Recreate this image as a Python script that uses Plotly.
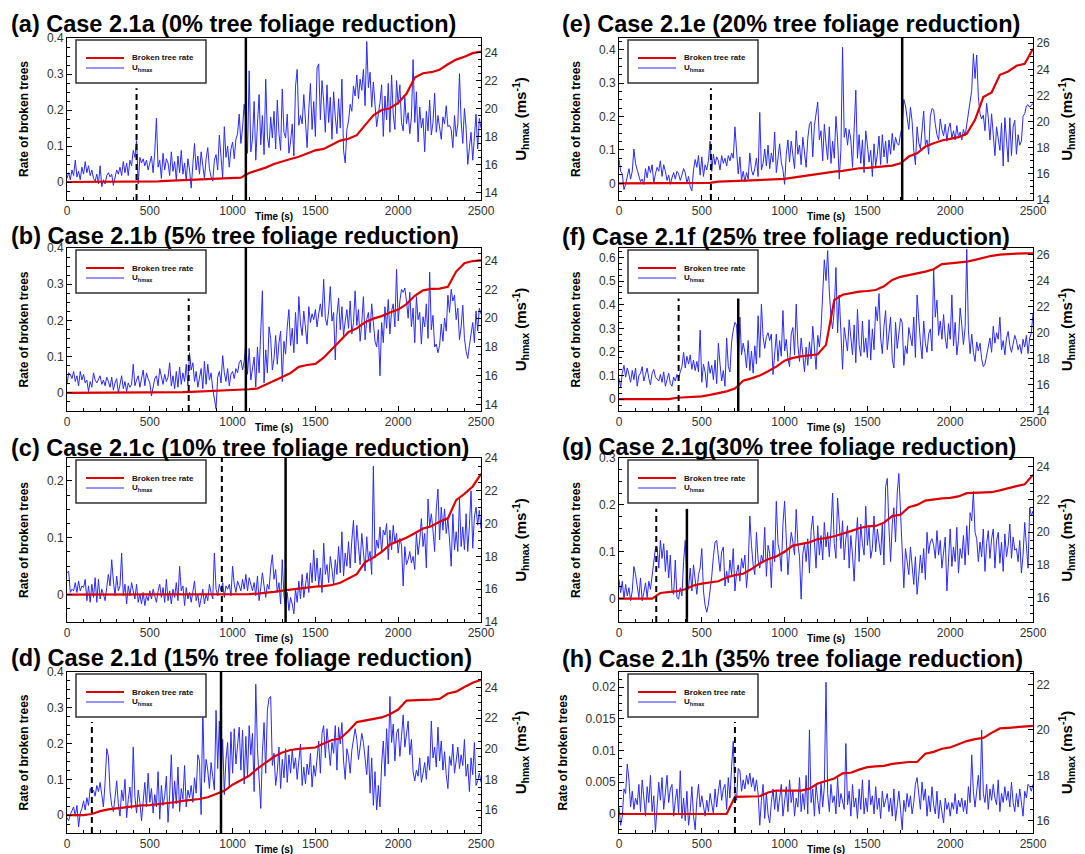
import plotly.graph_objects as go

# ---------------- data ----------------
panel_titles = [
    "(a) Case 2.1a (0% tree foliage reduction)",
    "(b) Case 2.1b (5% tree foliage reduction)",
    "(c) Case 2.1c (10% tree foliage reduction)",
    "(d) Case 2.1d (15% tree foliage reduction)",
    "(e) Case 2.1e (20% tree foliage reduction)",
    "(f) Case 2.1f (25% tree foliage reduction)",
    "(g) Case 2.1g(30% tree foliage reduction)",
    "(h) Case 2.1h (35% tree foliage reduction)",
]
legend_labels = ["Broken tree rate", "U<sub>hmax</sub>"]

U_STEP = 10     # s between U_hmax samples
R_STEP = 50     # s between broken-tree-rate samples

u_a = [15.0, 15.4, 14.9, 15.6, 15.2, 16.3, 15.1, 15.5, 14.9, 15.8, 15.3, 16.2, 15.4, 15.9, 15.2, 15.6, 15.0, 14.8, 15.3, 14.6, 15.9, 14.4, 14.9, 14.6, 15.2,
       15.4, 15.1, 15.3, 14.5, 15.0, 15.6, 15.3, 15.8, 15.2, 16.2, 15.4, 16.1, 15.2, 16.3, 15.9, 17.0, 16.5, 17.7, 14.6, 16.5, 16.1, 16.4, 15.9, 16.3, 15.6,
       16.2, 16.6, 15.4, 16.9, 19.3, 15.8, 16.3, 15.0, 16.8, 15.6, 16.4, 16.1, 15.2, 16.9, 15.5, 16.2, 14.9, 16.6, 15.4, 17.0, 15.3, 16.1, 14.8, 16.4, 15.6,
       14.3, 16.0, 17.5, 15.6, 16.6, 15.3, 16.9, 15.9, 15.0, 16.4, 17.2, 15.7, 15.1, 14.8, 16.3, 16.7, 15.6, 18.1, 16.4, 15.0, 18.7, 16.5, 17.3, 15.8, 17.1,
       17.6, 16.4, 17.8, 18.2, 19.6, 17.5, 18.6, 20.3, 19.1, 16.8, 22.7, 16.9, 17.8, 20.5, 16.3, 18.9, 21.0, 17.4, 19.5, 16.7, 22.1, 18.0, 17.2, 19.4, 17.9,
       19.8, 17.1, 20.6, 18.2, 17.0, 21.4, 18.3, 17.9, 19.6, 16.8, 17.6, 18.9, 16.6, 21.6, 22.8, 18.8, 19.5, 18.9, 21.0, 19.3, 17.2, 19.9, 21.8, 18.5, 20.5,
       18.0, 22.9, 23.2, 19.2, 22.0, 20.5, 18.3, 21.7, 19.0, 20.8, 17.8, 21.2, 19.4, 18.2, 20.7, 18.6, 22.1, 17.0, 16.1, 18.5, 19.1, 20.3, 19.8, 21.6, 20.9,
       22.4, 20.7, 22.1, 21.3, 22.8, 20.2, 24.8, 21.5, 22.6, 20.1, 21.9, 20.3, 18.7, 19.6, 20.4, 21.7, 18.0, 20.9, 19.2, 21.8, 18.3, 22.4, 19.6, 18.5, 22.0,
       20.3, 21.7, 19.0, 18.4, 20.8, 18.9, 19.7, 18.2, 19.4, 23.5, 19.0, 21.2, 17.6, 20.1, 18.6, 19.3, 16.9, 19.8, 18.4, 20.6, 18.1, 19.0, 21.1, 18.3, 19.5,
       18.6, 17.8, 19.4, 18.9, 20.2, 18.7, 18.8, 18.5, 17.2, 19.5, 18.0, 18.9, 22.5, 19.1, 17.5, 20.0, 18.6, 16.0, 17.2, 18.3, 16.3, 17.9, 19.6, 17.1, 19.3,
       18.6]
rate_a = [0, 0, 0, 0, 0, 0, 0, 0, 0, 0,
          0.001, 0.002, 0.003, 0.004, 0.005, 0.006, 0.007, 0.008, 0.009, 0.010, 0.011, 0.012,
          0.025, 0.032, 0.040, 0.050, 0.058, 0.064, 0.070, 0.080, 0.088, 0.092, 0.103, 0.115,
          0.120, 0.130, 0.158, 0.185, 0.200, 0.205, 0.220, 0.245, 0.290, 0.302, 0.305, 0.312,
          0.327, 0.340, 0.348, 0.358, 0.362]

u_b = [15.4, 16.2, 16.1, 15.8, 16.3, 15.6, 16.0, 15.3, 16.3, 15.7, 16.1, 15.5, 15.7, 14.9, 15.6, 15.2, 16.2, 15.7, 15.5, 15.8, 16.0, 15.4, 15.7, 15.3, 15.9,
       15.6, 15.2, 15.9, 15.0, 15.5, 15.8, 14.8, 15.3, 16.0, 15.1, 15.6, 14.9, 15.5, 15.2, 15.4, 16.8, 15.3, 15.7, 16.0, 15.2, 15.8, 16.4, 15.3, 16.2, 15.8,
       15.5, 14.6, 15.2, 15.8, 16.0, 15.3, 16.5, 15.8, 15.4, 16.1, 15.6, 15.9, 16.9, 15.3, 16.0, 15.1, 16.3, 15.2, 16.6, 15.4, 16.2, 15.6, 16.8, 15.3, 17.6,
       16.4, 16.9, 15.6, 16.3, 15.2, 15.9, 16.5, 15.1, 17.0, 15.4, 16.8, 15.7, 16.2, 15.1, 14.4, 13.7, 15.9, 16.3, 15.5, 17.4, 16.2, 15.6, 16.5, 15.3, 16.1,
       16.3, 15.8, 16.5, 16.2, 16.9, 17.1, 16.4, 17.0, 18.3, 16.1, 17.9, 15.7, 16.4, 17.3, 15.2, 18.0, 16.2, 19.0, 21.9, 15.5, 17.8, 16.2, 19.4, 18.6, 16.4,
       17.2, 18.8, 16.8, 18.3, 19.1, 15.6, 18.4, 17.5, 19.4, 20.6, 18.1, 19.3, 17.6, 20.4, 18.2, 21.5, 19.6, 18.8, 20.5, 19.3, 18.2, 20.8, 19.7, 20.3, 19.9,
       20.6, 19.4, 20.3, 21.0, 20.1, 22.7, 20.0, 19.5, 20.5, 22.2, 19.8, 20.4, 17.1, 20.2, 21.4, 19.2, 20.8, 18.8, 19.8, 20.6, 19.3, 21.2, 18.9, 19.7, 21.9,
       19.5, 20.6, 18.4, 19.7, 21.5, 18.5, 19.9, 20.4, 19.0, 21.0, 19.5, 18.4, 18.0, 19.2, 16.0, 19.7, 18.3, 20.8, 19.3, 21.3, 18.9, 20.5, 21.0, 19.4, 23.4,
       19.8, 21.2, 22.0, 21.8, 22.1, 21.2, 20.0, 21.8, 19.4, 20.7, 18.3, 21.5, 19.9, 20.4, 18.2, 20.1, 19.4, 21.0, 18.6, 23.2, 19.2, 20.2, 18.0, 18.2, 17.6,
       18.1, 19.6, 18.4, 20.0, 19.1, 21.6, 20.4, 22.0, 21.2, 21.6, 19.9, 20.7, 18.5, 19.4, 20.9, 18.6, 17.7, 17.2, 18.1, 19.0, 19.7, 18.3, 20.5, 19.1, 20.7,
       20.3]
rate_b = [0, 0, 0, 0, 0, 0, 0, 0, 0, 0, 0, 0, 0, 0,
          0.002, 0.003, 0.004, 0.004, 0.005, 0.005, 0.006, 0.007, 0.010, 0.012, 0.022, 0.033,
          0.044, 0.055, 0.072, 0.077, 0.080, 0.097, 0.120, 0.143, 0.168, 0.178, 0.195, 0.205,
          0.212, 0.222, 0.230, 0.245, 0.268, 0.283, 0.287, 0.288, 0.293, 0.335, 0.358, 0.364, 0.366]

u_c = [17.0, 17.1, 15.8, 16.0, 15.9, 16.4, 15.8, 16.5, 15.9, 16.2, 16.1, 16.6, 15.3, 16.2, 15.2, 16.3, 15.5, 16.7, 15.2, 16.6, 15.4, 16.0, 15.7, 15.3, 16.1,
       16.9, 16.2, 17.8, 16.5, 15.6, 16.8, 15.9, 16.2, 18.2, 15.6, 16.3, 15.1, 16.2, 15.6, 16.4, 15.9, 15.4, 16.3, 15.2, 15.7, 15.1, 15.8, 15.0, 15.6, 15.3,
       15.9, 15.4, 16.0, 15.6, 15.2, 15.9, 16.3, 15.5, 16.1, 15.2, 16.6, 15.3, 15.9, 15.1, 16.0, 15.5, 16.4, 15.3, 17.4, 15.9, 16.2, 15.0, 16.1, 15.4, 15.8,
       15.2, 15.9, 16.5, 15.3, 15.7, 14.9, 15.6, 16.0, 15.1, 15.7, 15.3, 16.3, 15.8, 15.4, 18.2, 16.0, 15.6, 16.3, 15.9, 16.4, 15.5, 16.2, 16.0, 16.3, 15.6,
       17.4, 16.3, 15.8, 16.5, 16.2, 15.9, 16.6, 16.0, 16.9, 15.9, 16.7, 16.2, 15.9, 16.4, 15.6, 16.8, 15.3, 16.1, 17.0, 16.2, 15.5, 16.3, 16.0, 17.3, 18.1,
       16.6, 17.2, 15.8, 16.4, 15.1, 17.8, 15.6, 14.9, 15.8, 14.7, 15.5, 15.1, 14.5, 16.0, 15.2, 16.5, 15.4, 16.9, 15.5, 16.2, 17.0, 15.8, 17.6, 16.4, 18.4,
       16.5, 17.9, 16.2, 17.3, 15.8, 18.8, 16.9, 17.5, 16.4, 18.0, 17.2, 16.3, 17.8, 16.9, 18.6, 17.0, 19.5, 16.8, 18.2, 17.4, 18.9, 17.3, 19.0, 20.2, 17.6,
       19.9, 18.6, 17.5, 19.4, 18.1, 17.1, 19.2, 17.8, 18.3, 16.9, 23.5, 17.9, 19.0, 18.5, 19.8, 18.2, 19.6, 19.3, 20.0, 17.8, 19.6, 18.4, 19.9, 18.8, 19.4,
       18.2, 19.1, 18.7, 16.2, 18.6, 17.5, 17.8, 18.3, 17.6, 18.0, 17.2, 19.4, 18.1, 19.0, 20.3, 18.6, 19.4, 17.3, 21.5, 19.8, 20.6, 19.6, 18.3, 20.9, 22.1,
       19.0, 21.0, 19.6, 20.9, 19.4, 20.3, 19.0, 17.4, 20.6, 18.4, 19.5, 18.3, 21.5, 18.6, 19.8, 18.4, 20.6, 18.3, 19.9, 22.0, 18.5, 20.4, 21.0, 19.9, 20.8,
       19.7]
rate_c = [0, 0, 0, 0, 0, 0, 0, 0, 0, 0, 0, 0, 0, 0, 0, 0, 0, 0, 0, 0, 0, 0.0005,
          0.001, 0.002, 0.003, 0.005, 0.007, 0.009, 0.011, 0.012, 0.014, 0.015, 0.017, 0.021,
          0.028, 0.036, 0.057, 0.065, 0.075, 0.088, 0.094, 0.100, 0.108, 0.116, 0.120, 0.128,
          0.134, 0.166, 0.177, 0.190, 0.212]

u_d = [15.5, 15.3, 15.7, 16.0, 16.2, 15.6, 16.3, 14.9, 15.8, 16.1, 16.6, 16.0, 16.8, 16.3, 17.4, 17.1, 17.3, 16.9, 17.6, 17.2, 17.8, 17.0, 16.2, 17.8, 20.0,
       19.5, 17.2, 16.3, 15.9, 16.8, 17.9, 16.4, 15.6, 17.3, 16.6, 18.0, 15.5, 16.7, 17.5, 16.1, 20.1, 16.9, 15.8, 17.3, 16.5, 15.3, 16.9, 17.8, 16.2, 18.4,
       16.5, 17.4, 15.8, 17.0, 16.2, 18.5, 15.4, 17.6, 16.3, 16.9, 18.2, 15.2, 17.0, 19.6, 16.1, 17.9, 16.4, 18.8, 15.9, 17.4, 16.7, 18.9, 16.2, 17.3, 16.8,
       17.6, 16.5, 18.1, 17.1, 19.6, 19.2, 15.7, 22.7, 17.8, 19.3, 18.6, 17.4, 19.1, 18.2, 17.3, 22.5, 18.7, 21.8, 17.9, 20.6, 17.0, 19.3, 20.4, 17.5, 21.1,
       18.4, 21.3, 19.0, 20.5, 21.4, 18.6, 21.2, 17.7, 20.8, 18.2, 21.5, 19.6, 21.0, 17.2, 24.2, 20.0, 18.3, 16.1, 19.8, 21.7, 18.4, 22.5, 23.3, 23.4, 18.9,
       19.7, 17.6, 18.5, 20.1, 17.4, 19.3, 18.1, 20.0, 17.8, 19.6, 18.4, 19.9, 18.7, 19.4, 18.0, 19.2, 20.3, 17.6, 18.8, 17.7, 19.0, 18.3, 19.7, 17.5, 18.9,
       18.2, 19.6, 20.5, 18.4, 21.0, 21.5, 19.4, 21.3, 20.1, 18.9, 20.4, 19.7, 21.5, 18.6, 21.4, 20.3, 21.7, 19.2, 18.0, 20.0, 19.5, 18.4, 19.9, 20.7, 21.3,
       20.6, 19.3, 20.1, 21.0, 20.4, 19.1, 18.3, 20.2, 17.1, 19.4, 16.3, 18.5, 16.0, 17.6, 16.2, 19.0, 20.5, 18.2, 21.3, 19.0, 23.4, 20.4, 21.6, 19.2, 21.0,
       21.3, 19.5, 20.8, 22.2, 20.1, 21.1, 21.8, 19.6, 20.6, 18.5, 17.9, 18.6, 18.2, 19.4, 17.8, 18.4, 19.1, 18.0, 19.5, 18.6, 21.8, 19.4, 20.1, 18.8, 21.4,
       19.2, 20.5, 18.6, 19.8, 18.3, 17.4, 19.5, 18.9, 20.3, 18.4, 19.2, 20.1, 18.7, 19.6, 18.9, 20.6, 18.2, 19.0, 17.2, 19.4, 18.3, 20.4, 17.6, 17.9, 18.4,
       17.8]
rate_d = [0, 0, 0, 0.003, 0.011, 0.016, 0.019, 0.022, 0.025, 0.027, 0.028, 0.030, 0.032,
          0.036, 0.040, 0.042, 0.045, 0.050, 0.058, 0.068, 0.085, 0.097, 0.110, 0.130, 0.147,
          0.163, 0.175, 0.182, 0.185, 0.187, 0.189, 0.200, 0.210, 0.214, 0.235, 0.260, 0.265,
          0.270, 0.273, 0.282, 0.295, 0.320, 0.322, 0.322, 0.323, 0.325, 0.340, 0.345, 0.358,
          0.370, 0.378]

u_e = [17.1, 16.2, 16.0, 14.8, 15.2, 15.9, 16.4, 15.6, 16.2, 17.9, 16.8, 16.3, 15.8, 15.4, 15.6, 15.2, 16.4, 15.7, 16.6, 16.1, 16.7, 15.3, 16.0, 16.5, 16.2,
       17.0, 15.8, 16.7, 16.2, 15.5, 15.9, 15.2, 15.7, 16.1, 15.6, 16.2, 16.0, 15.5, 15.9, 16.4, 16.1, 15.3, 15.8, 15.0, 14.7, 16.3, 17.1, 16.5, 17.4, 15.9,
       17.3, 15.8, 16.7, 16.3, 17.0, 18.5, 16.2, 17.5, 16.7, 17.3, 17.0, 16.3, 17.4, 16.8, 17.2, 16.6, 17.4, 17.0, 17.6, 17.2, 19.6, 17.5, 16.0, 17.3, 15.5,
       16.2, 15.4, 16.1, 15.6, 17.6, 16.3, 15.9, 16.4, 17.2, 15.8, 20.7, 16.3, 16.8, 17.9, 16.6, 18.2, 16.4, 17.6, 16.9, 19.2, 16.1, 17.4, 18.3, 16.9, 16.3,
       15.2, 17.5, 18.6, 16.9, 18.5, 17.6, 16.4, 19.3, 17.5, 18.2, 16.7, 18.8, 17.4, 16.5, 18.7, 19.8, 20.0, 17.3, 19.7, 20.6, 21.5, 18.6, 19.3, 17.0, 19.8,
       18.3, 17.1, 19.6, 16.8, 18.5, 17.2, 20.4, 18.6, 15.6, 17.8, 25.7, 18.8, 19.5, 18.2, 19.4, 18.6, 16.5, 19.3, 22.4, 17.2, 19.0, 16.8, 18.6, 16.1, 19.3,
       18.2, 16.9, 17.8, 15.8, 18.3, 16.6, 17.5, 18.9, 16.7, 19.0, 17.3, 18.5, 16.8, 18.6, 17.5, 19.1, 17.8, 18.8, 18.3, 18.2, 19.1, 19.6, 21.7, 21.2, 20.3,
       19.4, 21.1, 20.0, 17.8, 16.7, 19.6, 18.4, 17.9, 19.3, 20.8, 18.2, 18.6, 17.5, 20.4, 21.0, 20.9, 19.8, 19.0, 18.6, 20.2, 19.4, 18.9, 19.8, 18.5, 19.5,
       19.9, 18.7, 19.3, 18.6, 19.7, 18.8, 19.2, 18.6, 19.4, 18.9, 19.8, 20.5, 21.6, 22.4, 25.2, 23.3, 25.1, 21.9, 20.6, 20.2, 20.5, 19.3, 21.4, 20.3, 18.6,
       20.6, 19.0, 17.4, 19.6, 18.7, 17.8, 19.9, 16.6, 20.3, 18.2, 16.9, 20.3, 17.4, 19.6, 20.1, 17.5, 19.0, 18.2, 18.5, 20.4, 20.6, 21.2, 21.3, 21.1, 21.3,
       21.4]
rate_e = [0, 0, 0, 0, 0, 0, 0, 0, 0, 0, 0,
          0.001, 0.005, 0.006, 0.008, 0.009, 0.010, 0.010, 0.011, 0.012, 0.013, 0.017, 0.021,
          0.025, 0.029, 0.032, 0.035, 0.037, 0.042, 0.045, 0.046, 0.048, 0.050, 0.053, 0.060,
          0.080, 0.090, 0.110, 0.120, 0.128, 0.133, 0.138, 0.148, 0.190, 0.258, 0.272, 0.325,
          0.335, 0.352, 0.358, 0.403]

u_f = [16.5, 15.8, 16.9, 17.5, 16.6, 17.3, 16.8, 16.2, 17.1, 16.4, 17.3, 15.9, 16.7, 16.9, 17.4, 16.3, 16.8, 17.3, 16.5, 16.0, 16.9, 17.2, 16.6, 16.4, 16.3,
       16.8, 16.2, 17.0, 15.9, 16.4, 16.9, 16.1, 15.9, 16.6, 16.3, 16.8, 16.5, 17.0, 17.4, 18.5, 17.3, 18.2, 17.6, 18.3, 17.2, 17.9, 17.1, 17.8, 17.0, 20.2,
       16.2, 17.6, 17.0, 15.8, 17.8, 16.9, 17.5, 16.4, 17.9, 16.1, 19.2, 17.6, 16.3, 17.1, 15.9, 19.6, 17.4, 17.0, 19.3, 20.2, 20.8, 20.6, 17.6, 21.2, 18.3,
       19.2, 18.5, 17.3, 19.4, 17.1, 18.6, 16.9, 19.0, 17.6, 21.3, 18.1, 22.2, 19.7, 18.8, 19.7, 20.0, 19.4, 19.9, 16.8, 18.5, 19.9, 17.8, 19.4, 18.2, 21.7,
       18.6, 19.5, 18.0, 17.4, 19.9, 20.4, 18.3, 22.2, 19.1, 17.8, 19.6, 18.2, 17.0, 18.9, 17.5, 19.3, 18.0, 20.5, 18.6, 17.2, 19.8, 18.9, 20.3, 22.5, 25.6,
       24.0, 26.3, 23.2, 21.2, 20.3, 21.8, 25.0, 20.0, 22.9, 19.5, 17.2, 20.4, 19.6, 18.6, 21.0, 19.8, 18.3, 20.6, 17.7, 21.8, 19.1, 18.2, 20.9, 18.5, 19.6,
       18.1, 21.0, 17.9, 20.3, 18.7, 22.0, 20.9, 23.0, 19.6, 18.4, 20.5, 21.7, 18.7, 19.9, 21.2, 18.0, 17.3, 20.8, 18.8, 19.9, 21.1, 20.8, 17.5, 19.0, 18.4,
       20.4, 19.7, 19.0, 21.2, 18.1, 22.9, 20.6, 19.3, 18.0, 20.9, 19.2, 18.5, 19.9, 20.3, 18.6, 24.9, 21.2, 22.5, 19.8, 20.9, 19.5, 21.4, 19.6, 18.8, 20.7,
       19.5, 22.9, 19.0, 20.8, 18.3, 19.4, 21.9, 20.6, 19.1, 20.4, 26.4, 20.2, 18.4, 19.9, 18.5, 17.8, 19.3, 18.6, 19.2, 18.0, 17.4, 17.6, 18.3, 18.9, 19.6,
       18.5, 20.5, 19.2, 20.0, 19.5, 21.2, 18.7, 19.4, 18.3, 19.6, 20.1, 19.0, 18.5, 19.3, 19.8, 19.4, 18.7, 19.1, 18.4, 19.5, 18.9, 19.8, 18.4, 19.6, 20.0,
       21.5]
rate_f = [0, 0, 0, 0, 0, 0, 0,
          0.006, 0.008, 0.010, 0.012, 0.018, 0.026, 0.033, 0.045, 0.078, 0.088, 0.100, 0.118,
          0.138, 0.163, 0.175, 0.181, 0.185, 0.190, 0.230, 0.420, 0.442, 0.450, 0.455, 0.458,
          0.462, 0.478, 0.505, 0.518, 0.525, 0.530, 0.540, 0.550, 0.572, 0.575, 0.577, 0.582,
          0.590, 0.600, 0.607, 0.612, 0.615, 0.616, 0.617, 0.617]

u_g = [17.1, 16.3, 17.0, 15.9, 16.8, 16.1, 16.6, 15.8, 16.4, 17.9, 17.4, 16.6, 16.0, 17.2, 15.8, 16.3, 16.9, 16.0, 17.0, 16.5, 17.4, 18.2, 19.0, 19.1, 17.8,
       19.5, 18.4, 19.3, 17.6, 18.9, 17.2, 18.6, 16.4, 16.2, 18.3, 16.0, 15.9, 16.6, 16.1, 18.2, 19.5, 17.0, 16.5, 17.8, 16.4, 18.0, 17.1, 16.2, 17.4, 17.8,
       19.0, 16.4, 15.5, 15.1, 15.6, 16.4, 17.3, 18.5, 19.4, 19.5, 18.3, 17.6, 18.8, 19.1, 16.7, 17.6, 16.9, 18.3, 17.4, 19.0, 16.4, 17.5, 18.0, 17.0, 18.4,
       17.8, 18.6, 16.6, 17.8, 21.0, 19.2, 18.0, 17.4, 20.0, 18.3, 17.8, 18.6, 18.2, 20.3, 17.3, 19.2, 18.7, 16.6, 19.5, 18.2, 21.9, 19.3, 18.8, 17.6, 20.5,
       21.9, 19.6, 17.4, 18.9, 20.0, 19.4, 18.6, 21.4, 19.3, 18.5, 15.9, 18.7, 19.3, 18.2, 19.6, 17.5, 20.1, 21.0, 19.0, 17.8, 20.4, 18.6, 19.8, 18.3, 20.6,
       19.1, 20.0, 18.5, 20.2, 22.4, 19.3, 18.4, 22.1, 20.5, 19.0, 20.7, 18.3, 19.6, 20.4, 17.8, 19.8, 18.6, 17.0, 19.4, 20.9, 18.2, 20.5, 19.3, 18.6, 21.6,
       19.2, 20.3, 18.4, 19.0, 21.0, 18.8, 20.2, 19.4, 18.6, 20.5, 18.0, 22.8, 23.3, 20.3, 18.2, 20.5, 21.5, 19.4, 22.4, 23.6, 21.0, 18.3, 16.6, 19.0, 18.2,
       17.4, 19.1, 17.8, 16.8, 18.5, 16.2, 17.3, 18.6, 17.5, 19.0, 17.1, 20.0, 18.7, 19.4, 19.6, 19.2, 18.4, 20.1, 18.6, 19.5, 17.8, 18.9, 19.7, 16.4, 18.3,
       20.2, 17.9, 19.1, 18.2, 20.3, 17.5, 19.0, 18.4, 19.8, 18.0, 20.4, 18.6, 21.2, 20.7, 22.5, 20.0, 19.6, 18.2, 19.4, 18.5, 20.2, 17.6, 19.3, 20.1, 18.4,
       19.6, 20.2, 17.8, 19.5, 20.0, 18.1, 19.4, 17.6, 19.9, 18.5, 19.2, 20.5, 18.4, 19.7, 18.9, 19.0, 18.2, 19.5, 17.5, 18.6, 20.6, 18.9, 17.8, 21.5, 21.0,
       21.3]
rate_g = [0, 0, 0, 0, 0, 0.012, 0.014, 0.016, 0.020, 0.028, 0.032, 0.035, 0.037,
          0.045, 0.050, 0.053, 0.063, 0.075, 0.084, 0.090, 0.100, 0.113, 0.117, 0.120, 0.127,
          0.129, 0.133, 0.138, 0.144, 0.150, 0.154, 0.155, 0.162, 0.176, 0.179, 0.195, 0.200,
          0.209, 0.212, 0.214, 0.215, 0.218, 0.225, 0.226, 0.226, 0.227, 0.231, 0.236, 0.240,
          0.244, 0.264]

u_h = [16.6, 15.8, 16.2, 17.4, 17.2, 18.5, 17.8, 16.6, 17.3, 16.5, 17.0, 16.7, 17.6, 16.4, 17.8, 16.9, 16.2, 17.5, 16.8, 18.0, 16.4, 17.1, 15.5, 16.6, 17.7,
       16.9, 17.9, 16.5, 17.3, 18.0, 16.8, 17.4, 17.6, 16.2, 16.9, 17.4, 16.3, 18.2, 16.1, 17.0, 16.0, 17.3, 15.8, 16.4, 17.5, 16.2, 15.6, 16.9, 17.6, 16.6,
       17.1, 16.6, 16.2, 16.9, 16.4, 17.2, 16.8, 16.3, 17.4, 16.6, 17.3, 17.8, 16.9, 17.4, 17.6, 16.5, 17.9, 17.0, 18.4, 19.5, 17.2, 16.9, 18.3, 18.2, 17.3,
       17.8, 17.4, 18.0, 17.6, 18.1, 17.5, 17.9, 17.3, 17.8, 17.2, 15.8, 16.9, 17.6, 16.1, 17.2, 16.3, 15.9, 16.8, 17.4, 16.5, 17.3, 16.4, 17.0, 17.6, 16.2,
       16.9, 17.5, 16.4, 17.8, 16.8, 17.3, 16.2, 17.0, 16.6, 17.9, 16.4, 17.2, 16.5, 18.0, 16.3, 20.0, 16.8, 17.4, 16.2, 17.6, 16.9, 16.3, 17.7, 16.6, 17.5,
       22.1, 17.2, 16.4, 17.6, 16.8, 17.1, 16.3, 17.9, 16.6, 17.2, 16.9, 16.5, 19.4, 16.7, 17.3, 16.2, 17.6, 16.6, 17.0, 16.1, 17.4, 16.5, 17.8, 16.3, 17.0,
       16.4, 17.8, 16.7, 17.1, 16.3, 17.5, 16.5, 17.0, 16.1, 17.3, 16.6, 16.9, 17.2, 16.4, 17.0, 16.2, 17.4, 16.0, 16.8, 17.3, 16.5, 15.6, 16.9, 16.4, 17.2,
       16.6, 17.1, 16.3, 16.8, 17.6, 17.9, 17.2, 16.5, 17.7, 16.9, 17.4, 16.2, 17.1, 16.4, 17.5, 16.7, 16.3, 17.3, 16.1, 16.9, 16.4, 15.9, 17.0, 16.5, 16.8,
       16.2, 16.8, 16.5, 17.2, 16.3, 16.9, 16.6, 17.0, 16.4, 16.9, 16.3, 17.5, 16.8, 18.9, 17.3, 16.6, 17.4, 18.0, 16.9, 20.0, 17.2, 16.8, 17.6, 16.5, 17.4,
       16.9, 17.6, 17.0, 16.7, 17.8, 16.4, 17.2, 16.8, 17.5, 16.9, 17.3, 16.6, 17.7, 16.8, 16.4, 17.2, 16.6, 17.4, 16.8, 16.2, 17.3, 17.0, 17.6, 17.5, 17.3,
       17.6]
rate_h = [0, 0, 0, 0, 0, 0, 0, 0, 0, 0, 0, 0, 0, 0,
          0.0027, 0.0027, 0.0027, 0.0028, 0.0034, 0.0037, 0.0037, 0.0037, 0.0037, 0.0040,
          0.0048, 0.0052, 0.0056, 0.0064, 0.0065, 0.0070, 0.0074, 0.0075, 0.0076, 0.0079,
          0.0081, 0.0082, 0.0082, 0.0095, 0.0098, 0.0103, 0.0105, 0.0110, 0.0115, 0.0118,
          0.0120, 0.0128, 0.0135, 0.0136, 0.0137, 0.0138, 0.0139]

u_series = [u_a, u_b, u_c, u_d, u_e, u_f, u_g, u_h]
rate_series = [rate_a, rate_b, rate_c, rate_d, rate_e, rate_f, rate_g, rate_h]

# event times (s): dashed and solid vertical markers
dashed_times = [420, 735, 935, 150, 555, 360, 225, 700]
solid_times = [1080, 1080, 1320, 930, 1710, 720, 410, None]

# axis ranges per panel
rate_ranges = [[-0.05, 0.4], [-0.05, 0.4], [-0.048, 0.24], [-0.05, 0.4],
               [-0.05, 0.435], [-0.05, 0.64], [-0.05, 0.3], [-0.003, 0.0224]]
rate_dticks = [0.1, 0.1, 0.1, 0.1, 0.1, 0.1, 0.1, 0.005]
u_ranges = [[13.45, 25.05], [13.55, 24.88], [14.0, 24.0], [14.5, 25.0],
            [14.0, 26.4], [14.0, 26.5], [14.5, 24.55], [15.46, 22.55]]

# ---------------- layout geometry (page pixels) ----------------
W, H = 1085, 854
OFF = 8                      # default page body margin of the html file
COL_X = [(67, 481), (619, 1033)]
ROW_Y = [(38, 200), (248, 411), (458, 622), (672, 833)]
TITLE_X = [9, 560]
TITLE_Y = [[24, 236, 448, 658], [24, 237, 447, 659]]
RIGHT_TITLE_STANDOFF = [18, 12]
FONT = "Arial, Liberation Sans, sans-serif"
RED = "#dd0000"
BLUE = "#2b2bff"
LEGEND_CUTOFF_T = 850     # markers left of this start below the legend box
LEGEND_BOTTOM_FRAC = 0.69


def px_x(v):
    return (v - OFF) / (W - OFF)


def px_y(v):
    return 1 - (v - OFF) / (H - OFF)


def name(prefix, n):
    return prefix if n == 1 else f"{prefix}{n}"


fig = go.Figure()
layout = dict(width=W - OFF, height=H - OFF, margin=dict(l=0, r=0, t=0, b=0),
              paper_bgcolor="white", plot_bgcolor="white", template="none",
              font=dict(family=FONT, color="black"), showlegend=False)
shapes = []
annotations = []

for p in range(8):
    col, row = p // 4, p % 4
    xn = p + 1
    yb = 2 * p + 1   # U axis (base, right side)
    yo = 2 * p + 2   # rate axis (overlay, left side)
    x0, x1 = COL_X[col]
    ytop, ybot = ROW_Y[row]
    xdom = [px_x(x0), px_x(x1)]
    ydom = [px_y(ybot), px_y(ytop)]
    xr = name("x", xn)
    ybr = name("y", yb)
    yor = name("y", yo)

    u = u_series[p]
    r = rate_series[p]
    tu = [U_STEP * k for k in range(len(u))]
    tr = [R_STEP * k for k in range(len(r))]

    fig.add_trace(go.Scatter(x=tr, y=r, mode="lines", name=legend_labels[0],
                             line=dict(color=RED, width=2.2), xaxis=xr, yaxis=yor,
                             hoverinfo="skip"))
    fig.add_trace(go.Scatter(x=tu, y=u, mode="lines", name=legend_labels[1],
                             line=dict(color=BLUE, width=1), xaxis=xr, yaxis=ybr,
                             hoverinfo="skip"))

    layout[name("xaxis", xn)] = dict(
        domain=xdom, anchor=ybr, range=[0, 2500], dtick=500, tick0=0,
        showline=True, linecolor="black", linewidth=1, mirror=True,
        ticks="inside", ticklen=5, tickcolor="black", showgrid=False, zeroline=False,
        tickfont=dict(size=12, color="#333", family=FONT),
        minor=dict(ticks="inside", ticklen=3, dtick=100, tickcolor="black", showgrid=False),
        automargin=False)
    layout[name("yaxis", yb)] = dict(
        domain=ydom, anchor=xr, side="right", range=u_ranges[p], dtick=2, tick0=0,
        showline=True, linecolor="black", linewidth=1,
        ticks="inside", ticklen=5, tickcolor="black", showgrid=False, zeroline=False,
        tickfont=dict(size=12, color="#333", family=FONT),
        minor=dict(ticks="inside", ticklen=3, dtick=0.5, tickcolor="black", showgrid=False),
        title=dict(text="<b>U<sub>hmax</sub> (ms<sup>-1</sup>)</b>", font=dict(size=15, family=FONT),
                   standoff=RIGHT_TITLE_STANDOFF[col]),
        automargin=False)
    layout[name("yaxis", yo)] = dict(
        overlaying=ybr, anchor=xr, side="left", range=rate_ranges[p], dtick=rate_dticks[p], tick0=0,
        showline=True, linecolor="black", linewidth=1,
        ticks="inside", ticklen=5, tickcolor="black", showgrid=False, zeroline=False,
        tickfont=dict(size=12, color="#333", family=FONT),
        minor=dict(ticks="inside", ticklen=3, dtick=rate_dticks[p] / 4, tickcolor="black", showgrid=False),
        title=dict(text="<b>Rate of broken trees</b>", font=dict(size=12, family=FONT), standoff=15),
        automargin=False)

    # x-axis title
    annotations.append(dict(text="<b>Time (s)</b>", xref="paper", yref="paper",
                            x=px_x((x0 + x1) / 2), y=px_y(ybot + 16),
                            xanchor="center", yanchor="middle", showarrow=False,
                            font=dict(size=10, family=FONT, color="black")))

    # event markers
    for t, style in ((dashed_times[p], "6px,4px"), (solid_times[p], "solid")):
        if t is None:
            continue
        top = LEGEND_BOTTOM_FRAC if t < LEGEND_CUTOFF_T else 1.0
        shapes.append(dict(type="line", xref=xr, yref=f"{ybr} domain",
                           x0=t, x1=t, y0=0, y1=top,
                           line=dict(color="black", width=2.5 if style == "solid" else 2, dash=style)))

    # boxed legend inside the panel
    shapes.append(dict(type="rect", xref="paper", yref="paper",
                       x0=px_x(x0 + 9), x1=px_x(x0 + 139), y0=px_y(ytop + 45), y1=px_y(ytop + 2),
                       line=dict(color="#333", width=1.5), fillcolor="white", layer="above"))
    for k, (color, width) in enumerate(((RED, 2.2), (BLUE, 1))):
        yy = ytop + 20 + 10 * k
        shapes.append(dict(type="line", xref="paper", yref="paper",
                           x0=px_x(x0 + 19), x1=px_x(x0 + 57), y0=px_y(yy), y1=px_y(yy),
                           line=dict(color=color, width=width), layer="above"))
        annotations.append(dict(text=f"<b>{legend_labels[k]}</b>", xref="paper", yref="paper",
                                x=px_x(x0 + 63), y=px_y(yy), xanchor="left", yanchor="middle",
                                showarrow=False, font=dict(size=8, family=FONT, color="#111")))

    annotations.append(dict(text=f"<b>{panel_titles[p]}</b>", xref="paper", yref="paper",
                            x=px_x(TITLE_X[col]), y=px_y(TITLE_Y[col][row]),
                            xanchor="left", yanchor="middle", showarrow=False,
                            font=dict(size=23.5, family=FONT, color="black")))

layout["shapes"] = shapes
layout["annotations"] = annotations
fig.update_layout(**layout)
fig.write_html("out.html")
